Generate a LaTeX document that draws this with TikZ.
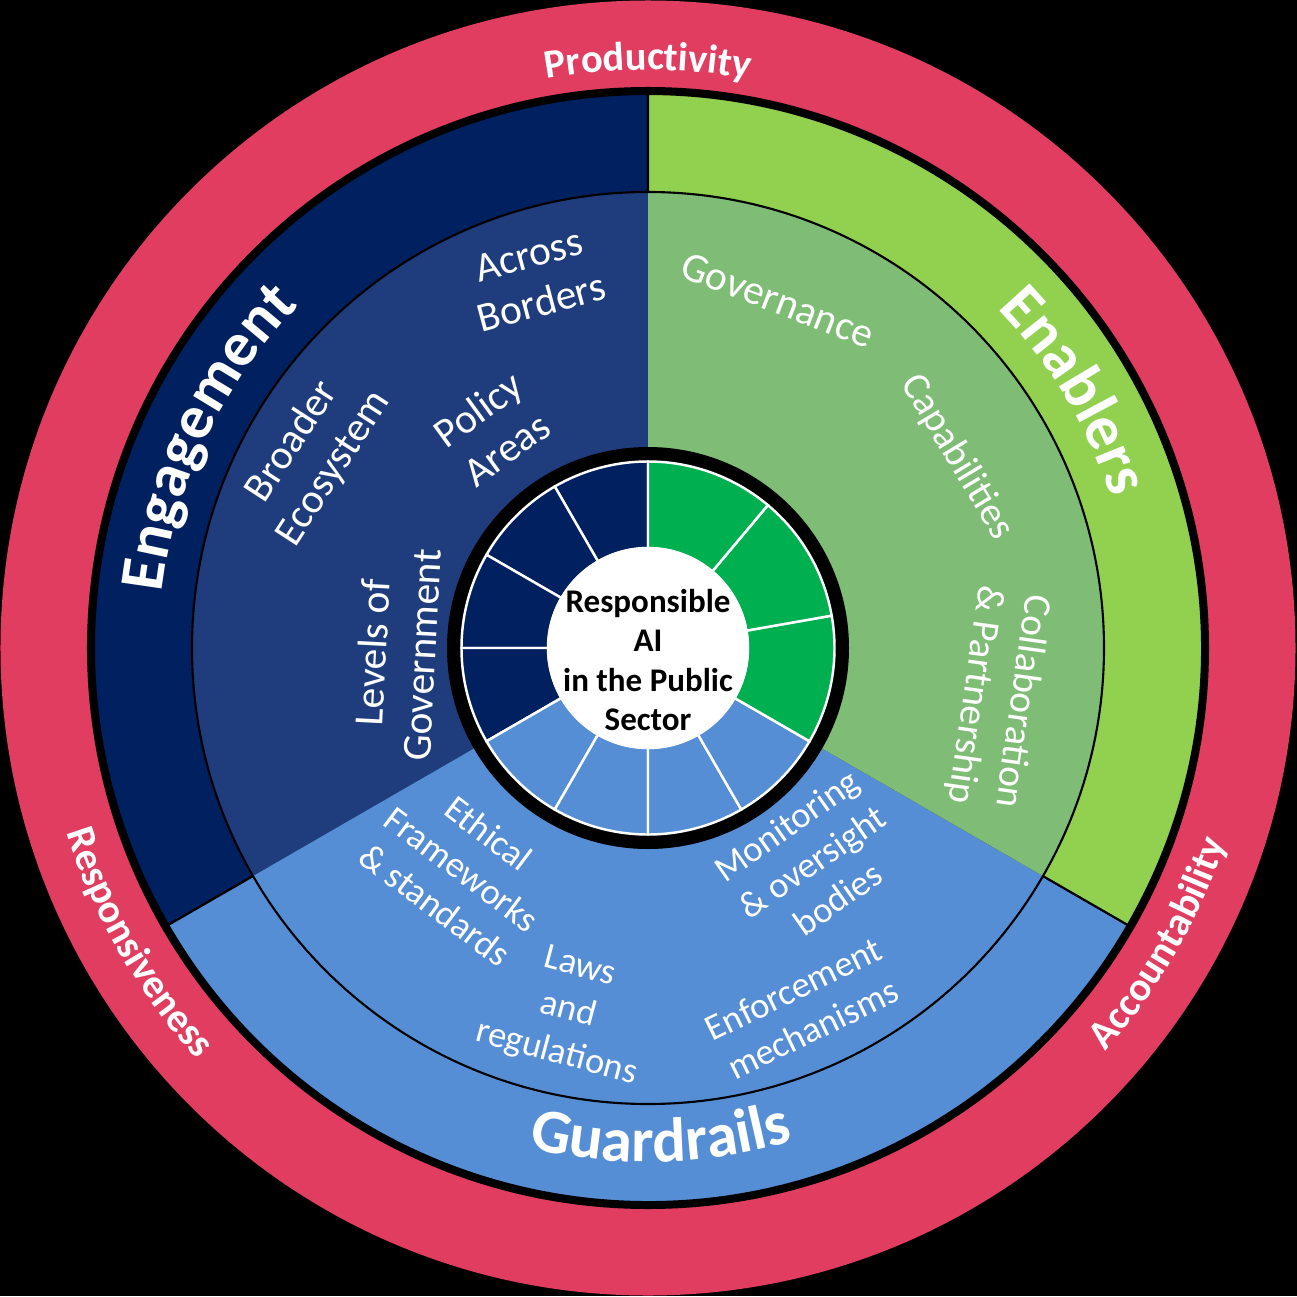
\documentclass[tikz,border=0pt]{standalone}
\usepackage{fontspec}
\setmainfont{Carlito}
\usetikzlibrary{decorations.text}
\definecolor{ringred}{RGB}{224,61,97}
\definecolor{navyout}{RGB}{0,32,96}
\definecolor{navyin}{RGB}{31,61,124}
\definecolor{limeout}{RGB}{146,208,80}
\definecolor{greenin}{RGB}{127,188,117}
\definecolor{skyblue}{RGB}{85,142,213}
\definecolor{brightgreen}{RGB}{0,176,80}
\newcommand\ringlblfont{\bfseries\fontsize{11.5pt}{14pt}\selectfont}
\newcommand\sectorlblfont{\bfseries\fontsize{17.8pt}{22pt}\selectfont}
\newcommand\itemlblfont{\fontsize{11.8pt}{14pt}\selectfont}
\newcommand\itemmidfont{\fontsize{11.2pt}{13.5pt}\selectfont}
\newcommand\itemsmallfont{\fontsize{10.4pt}{12.7pt}\selectfont}
\newcommand\corelblfont{\bfseries\fontsize{9.4pt}{11.2pt}\selectfont}
\tikzset{
  itemlbl/.style={text=white, font=\itemlblfont, align=center, inner sep=0pt},
  itemmid/.style={itemlbl, font=\itemmidfont},
  itemsmall/.style={itemlbl, font=\itemsmallfont},
  corelbl/.style={text=black, font=\corelblfont, align=center, inner sep=0pt},
  outersector/.style={draw=black, line width=0.6pt},
  segline/.style={draw=white, line width=0.7pt},
  arctext/.style={decorate, decoration={text along path, text align=center, text color=white}}
}
\begin{document}
\begin{tikzpicture}
\useasboundingbox (-6.48,-6.48) rectangle (6.49,6.48);
\fill[black] (-6.48,-6.48) rectangle (6.49,6.48);
% outer red ring
\fill[ringred] (0,0) circle (6.475);
\fill[black] (0,0) circle (5.61);
% outer sectors
\filldraw[fill=navyout, outersector] (0,0) -- (90:5.54) arc[start angle=90, end angle=210, radius=5.54] -- cycle;
\filldraw[fill=skyblue, outersector] (0,0) -- (210:5.54) arc[start angle=210, end angle=330, radius=5.54] -- cycle;
\filldraw[fill=limeout, outersector] (0,0) -- (-30:5.54) arc[start angle=-30, end angle=90, radius=5.54] -- cycle;
% inner disc
\fill[navyin] (0,0) -- (90:4.56) arc[start angle=90, end angle=210, radius=4.56] -- cycle;
\fill[skyblue] (0,0) -- (210:4.56) arc[start angle=210, end angle=330, radius=4.56] -- cycle;
\fill[greenin] (0,0) -- (-30:4.56) arc[start angle=-30, end angle=90, radius=4.56] -- cycle;
\draw[black, line width=0.6pt] (0,0) circle (4.56);
% small ring
\fill[black] (0,0) circle (2.01);
\foreach \a/\b in {90/120,120/150,150/180,180/210}{
  \filldraw[fill=navyout, segline] (\a:1.0) -- (\a:1.865) arc[start angle=\a, end angle=\b, radius=1.865] -- (\b:1.0) arc[start angle=\b, end angle=\a, radius=1.0] -- cycle;
}
\foreach \a/\b in {210/240,240/270,270/300,300/330}{
  \filldraw[fill=skyblue, segline] (\a:1.0) -- (\a:1.865) arc[start angle=\a, end angle=\b, radius=1.865] -- (\b:1.0) arc[start angle=\b, end angle=\a, radius=1.0] -- cycle;
}
\foreach \a/\b in {-30/10,10/50,50/90}{
  \filldraw[fill=brightgreen, segline] (\a:1.0) -- (\a:1.865) arc[start angle=\a, end angle=\b, radius=1.865] -- (\b:1.0) arc[start angle=\b, end angle=\a, radius=1.0] -- cycle;
}
\fill[white] (0,0) circle (1.01);
\node[corelbl] (core) at (0,-0.12) {Responsible\\AI\\in the Public\\Sector};
% ring labels (curved)
\path[arctext, decoration={text={|\ringlblfont|Productivity}}] (115:5.78) arc[start angle=115, end angle=65, radius=5.78];
\path[arctext, decoration={text={|\ringlblfont|Responsiveness}}] (180:6.10) arc[start angle=180, end angle=240, radius=6.10];
\path[arctext, decoration={text={|\ringlblfont|Accountability}}] (300:6.10) arc[start angle=300, end angle=360, radius=6.10];
% sector labels (curved)
\path[arctext, decoration={text={|\sectorlblfont|Engagement}}] (189.5:4.89) arc[start angle=189.5, end angle=119.5, radius=4.89];
\path[arctext, decoration={text={|\sectorlblfont|Enablers}}] (66:4.87) arc[start angle=66, end angle=-4, radius=4.87];
\path[arctext, decoration={text={|\sectorlblfont|Guardrails}}] (236.5:5.14) arc[start angle=236.5, end angle=306.5, radius=5.14];
% item labels
\node[itemlbl, rotate=15] (across) at (-1.13,3.69) {Across\\Borders};
\node[itemlbl, rotate=57] (broader) at (-3.35,1.93) {Broader\\Ecosystem};
\node[itemlbl, rotate=36] (policy) at (-1.56,2.19) {Policy\\Areas};
\node[itemlbl, rotate=87] (levels) at (-2.51,-0.06) {Levels of\\Government};
\node[itemlbl, rotate=-21] (governance) at (1.30,3.48) {Governance};
\node[itemmid, rotate=-59] (capab) at (3.09,1.91) {Capabilities};
\node[itemmid, rotate=-98] (collab) at (3.50,-0.50) {Collaboration\\\& Partnership};
\node[itemsmall, rotate=-37] (ethical) at (-1.86,-2.21) {Ethical\\Frameworks\\\& standards};
\node[itemsmall, rotate=-15] (laws) at (-0.80,-3.63) {Laws\\and\\regulations};
\node[itemsmall, rotate=35] (monitor) at (1.64,-2.14) {Monitoring\\\& oversight\\bodies};
\node[itemsmall, rotate=26] (enforce) at (1.55,-3.61) {Enforcement\\mechanisms};
\end{tikzpicture}
\end{document}
